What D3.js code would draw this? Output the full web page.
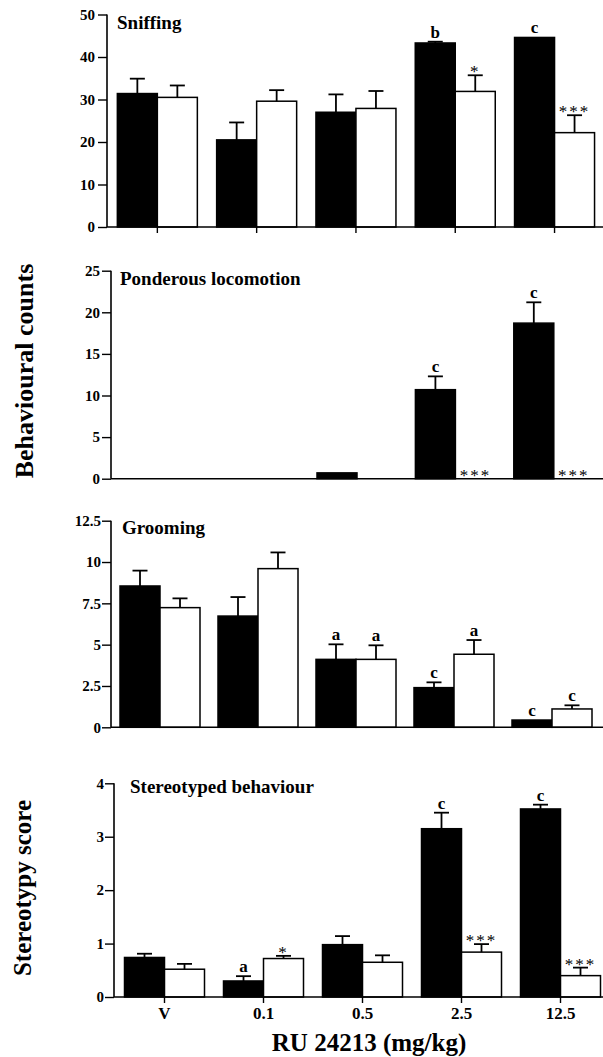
<!DOCTYPE html>
<html>
<head>
<meta charset="utf-8">
<script src="https://cdn.jsdelivr.net/npm/d3@7"></script>
<style>
  html, body { margin: 0; padding: 0; background: #fff; }
  svg { display: block; }
  text { font-family: "Liberation Serif", "Times New Roman", serif; fill: #000; }
</style>
</head>
<body>
<div id="chart"></div>
<script>
// dose groups on the x axis
const DOSES = ["V", "0.1", "0.5", "2.5", "12.5"];

// sniffing counts (filled = black bars, open = white bars)
const sniffFilled = [31.4, 20.5, 27.0, 43.3, 44.6];
const sniffFilledErr = [3.5, 4.1, 4.2, 0.3, 0];
const sniffOpen = [30.5, 29.6, 27.9, 31.9, 22.2];
const sniffOpenErr = [2.8, 2.6, 4.1, 3.8, 4.1];
const sniffFilledMarks = ["", "", "", "b", "c"];
const sniffOpenMarks = ["", "", "", "*", "***"];

// ponderous locomotion counts
const locoFilled = [0, 0, 0.7, 10.7, 18.7];
const locoFilledErr = [0, 0, 0, 1.6, 2.5];
const locoOpen = [0, 0, 0, 0, 0];
const locoOpenErr = [0, 0, 0, 0, 0];
const locoFilledMarks = ["", "", "", "c", "c"];
const locoOpenMarks = ["", "", "", "***", "***"];

// grooming counts
const groomFilled = [8.55, 6.73, 4.11, 2.4, 0.44];
const groomFilledErr = [0.93, 1.15, 0.91, 0.32, 0];
const groomOpen = [7.24, 9.6, 4.11, 4.42, 1.11];
const groomOpenErr = [0.56, 0.98, 0.85, 0.86, 0.22];
const groomFilledMarks = ["", "", "a", "c", "c"];
const groomOpenMarks = ["", "", "a", "a", "c"];

// stereotypy score
const stereoFilled = [0.74, 0.30, 0.98, 3.15, 3.52];
const stereoFilledErr = [0.07, 0.09, 0.16, 0.30, 0.08];
const stereoOpen = [0.52, 0.72, 0.65, 0.84, 0.40];
const stereoOpenErr = [0.10, 0.05, 0.13, 0.15, 0.15];
const stereoFilledMarks = ["", "a", "", "c", "c"];
const stereoOpenMarks = ["", "*", "", "***", "***"];

// y tick labels
const sniffTicks = [0, 10, 20, 30, 40, 50];
const locoTicks = [0, 5, 10, 15, 20, 25];
const groomTicks = [0, 2.5, 5, 7.5, 10, 12.5];
const stereoTicks = [0, 1, 2, 3, 4];

const W = 603, H = 1057;
const barW = 40;

const svg = d3.select("#chart").append("svg")
  .attr("width", W)
  .attr("height", H);

const panels = [
  { title: "Sniffing", filled: sniffFilled, fErr: sniffFilledErr, open: sniffOpen, oErr: sniffOpenErr,
    fMarks: sniffFilledMarks, oMarks: sniffOpenMarks, ticks: sniffTicks, max: 50,
    top: 14.5, base: 227, axisX: 107, x0: 107.7, step: 99.3, xTicks: true, xLabels: false,
    titleX: 117, titleY: 29, tickPad: 3 },
  { title: "Ponderous locomotion", filled: locoFilled, fErr: locoFilledErr, open: locoOpen, oErr: locoOpenErr,
    fMarks: locoFilledMarks, oMarks: locoOpenMarks, ticks: locoTicks, max: 25,
    top: 270.7, base: 478.7, axisX: 111, x0: 111, step: 98.4, xTicks: false, xLabels: false,
    titleX: 120, titleY: 285, tickPad: 2 },
  { title: "Grooming", filled: groomFilled, fErr: groomFilledErr, open: groomOpen, oErr: groomOpenErr,
    fMarks: groomFilledMarks, oMarks: groomOpenMarks, ticks: groomTicks, max: 12.5,
    top: 520.7, base: 727.3, axisX: 111, x0: 111, step: 98, xTicks: false, xLabels: false,
    titleX: 122, titleY: 534, tickPad: 1 },
  { title: "Stereotyped behaviour", filled: stereoFilled, fErr: stereoFilledErr, open: stereoOpen, oErr: stereoOpenErr,
    fMarks: stereoFilledMarks, oMarks: stereoOpenMarks, ticks: stereoTicks, max: 4,
    top: 783.3, base: 997, axisX: 114, x0: 115, step: 99, xTicks: true, xLabels: true,
    titleX: 130, titleY: 793, tickPad: 1 }
];

panels.forEach(p => {
  const g = svg.append("g");

  const x = d3.scaleBand()
    .domain(DOSES)
    .range([p.x0, p.x0 + p.step * DOSES.length])
    .paddingInner(0);
  const y = d3.scaleLinear().domain([0, p.max]).range([p.base, p.top]);
  const cx = d => x(d) + x.bandwidth() / 2;

  // bars, black to the left of the group centre, white to the right
  const rows = [];
  DOSES.forEach((d, i) => {
    rows.push({ dose: d, value: p.filled[i], err: p.fErr[i], mark: p.fMarks[i], fill: "#000", side: -1 });
    rows.push({ dose: d, value: p.open[i], err: p.oErr[i], mark: p.oMarks[i], fill: "#fff", side: 1 });
  });
  const barX = r => r.side < 0 ? cx(r.dose) - barW : cx(r.dose);
  const midX = r => barX(r) + barW / 2;

  g.selectAll("rect.bar")
    .data(rows.filter(r => r.value > 0))
    .join("rect")
    .attr("class", "bar")
    .attr("x", barX)
    .attr("y", r => y(r.value))
    .attr("width", barW)
    .attr("height", r => y(0) - y(r.value))
    .attr("fill", r => r.fill)
    .attr("stroke", "#000")
    .attr("stroke-width", 1.5);

  // error bars (upper half only)
  const errRows = rows.filter(r => r.err > 0);
  g.selectAll("line.err")
    .data(errRows)
    .join("line")
    .attr("class", "err")
    .attr("x1", midX).attr("x2", midX)
    .attr("y1", r => y(r.value)).attr("y2", r => y(r.value + r.err))
    .attr("stroke", "#000").attr("stroke-width", 1.8);
  g.selectAll("line.cap")
    .data(errRows)
    .join("line")
    .attr("class", "cap")
    .attr("x1", r => midX(r) - 7.5).attr("x2", r => midX(r) + 7.5)
    .attr("y1", r => y(r.value + r.err)).attr("y2", r => y(r.value + r.err))
    .attr("stroke", "#000").attr("stroke-width", 1.8);

  // significance marks
  g.selectAll("text.mark")
    .data(rows.filter(r => r.mark))
    .join("text")
    .attr("class", "mark")
    .attr("x", midX)
    .attr("y", r => r.mark.startsWith("*") ? y(r.value + r.err) + 2 : y(r.value + r.err) - 4)
    .attr("text-anchor", "middle")
    .attr("fill", "#000")
    .style("font-size", r => r.mark.startsWith("*") ? "17px" : "17px")
    .style("font-weight", r => r.mark.startsWith("*") ? "normal" : "bold")
    .style("letter-spacing", r => r.mark.startsWith("*") ? "2px" : "0px")
    .text(r => r.mark);

  // y axis
  const yAxis = d3.axisLeft(y)
    .tickValues(p.ticks)
    .tickFormat(d => String(d))
    .tickSize(9)
    .tickPadding(p.tickPad);
  const ya = g.append("g")
    .attr("transform", `translate(${p.axisX},0)`)
    .call(yAxis);
  ya.select(".domain").remove();
  ya.append("line")
    .attr("x1", 0).attr("x2", 0)
    .attr("y1", p.top).attr("y2", p.base)
    .attr("stroke", "#000").attr("stroke-width", 1.6);
  ya.selectAll(".tick line").attr("stroke-width", 1.4);
  ya.selectAll(".tick text")
    .style("font-family", "'Liberation Serif', serif")
    .style("font-size", "15px")
    .style("font-weight", "bold")
    .attr("fill", "#000");

  // x axis baseline
  const xa = g.append("g").attr("transform", `translate(0,${p.base})`);
  if (p.xTicks) {
    xa.call(d3.axisBottom(x).tickSize(6).tickPadding(4)
      .tickFormat(p.xLabels ? (d => d) : () => ""));
    xa.selectAll(".tick line").attr("stroke-width", 1.4);
    xa.selectAll(".tick text")
      .style("font-family", "'Liberation Serif', serif")
      .style("font-size", "17px")
      .style("font-weight", "bold")
      .attr("fill", "#000");
  }
  xa.select(".domain").remove();
  xa.append("line")
    .attr("x1", p.axisX).attr("x2", W)
    .attr("y1", 0).attr("y2", 0)
    .attr("stroke", "#000").attr("stroke-width", 1.6);

  // panel title
  g.append("text")
    .attr("x", p.titleX)
    .attr("y", p.titleY)
    .style("font-size", "19px")
    .style("font-weight", "bold")
    .text(p.title);
});

// axis titles
svg.append("text")
  .attr("transform", "translate(33,371) rotate(-90)")
  .attr("text-anchor", "middle")
  .style("font-size", "26px")
  .style("font-weight", "bold")
  .text("Behavioural counts");

svg.append("text")
  .attr("transform", "translate(31,888) rotate(-90)")
  .attr("text-anchor", "middle")
  .style("font-size", "25px")
  .style("font-weight", "bold")
  .text("Stereotypy score");

svg.append("text")
  .attr("x", 369)
  .attr("y", 1051)
  .attr("text-anchor", "middle")
  .style("font-size", "25px")
  .style("font-weight", "bold")
  .text("RU 24213 (mg/kg)");
</script>
</body>
</html>
